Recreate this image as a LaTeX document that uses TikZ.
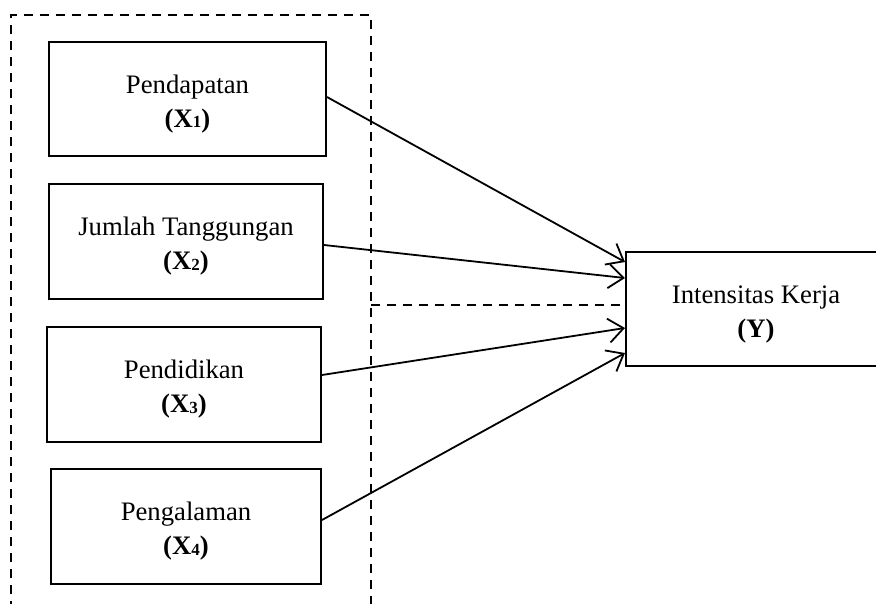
\documentclass[tikz,border=0pt]{standalone}
\usepackage{fontspec}
\setmainfont{Liberation Serif}
\usetikzlibrary{arrows.meta}
\begin{document}
\begin{tikzpicture}[x=1pt,y=-1pt,
  varbox/.style={draw,line width=2pt,inner sep=0pt},
  vartext/.style={align=center,inner sep=0pt,yshift=-5pt,
    font=\fontsize{26.7}{34}\selectfont},
  conn/.style={line width=1.8pt,-{Straight Barb[length=15pt,width=24pt,line width=1.8pt]}},
  dashline/.style={line width=1.8pt,dash pattern=on 9pt off 7pt}]
\useasboundingbox (0,0) rectangle (876,603);
\clip (0,0) rectangle (876,603);
\newcommand{\xv}[1]{\textbf{(X\raisebox{-0.5pt}{\fontsize{17}{17}\selectfont #1})}}
\node[varbox,minimum width=277pt,minimum height=114pt] (x1) at (187.5,99) {};
\node[varbox,minimum width=274pt,minimum height=115pt] (x2) at (186,241.5) {};
\node[varbox,minimum width=274pt,minimum height=115pt] (x3) at (184,384.5) {};
\node[varbox,minimum width=270pt,minimum height=115pt] (x4) at (186,526.5) {};
\node[varbox,minimum width=260pt,minimum height=114pt] (y) at (756,309) {};
\node[vartext] (x1t) at (x1.center) {Pendapatan\\\xv{1}};
\node[vartext] (x2t) at (x2.center) {Jumlah Tanggungan\\\xv{2}};
\node[vartext] (x3t) at (x3.center) {Pendidikan\\\xv{3}};
\node[vartext] (x4t) at (x4.center) {Pengalaman\\\xv{4}};
\node[vartext] (yt) at (y.center) {Intensitas Kerja\\\textbf{(Y)}};
\coordinate (tl) at (11,15);
\coordinate (tr) at (371,15);
\coordinate (bl) at (11,610);
\coordinate (br) at (371,610);
\coordinate (mid) at (371,305);
\draw[dashline] (bl) -- (tl) -- (tr) -- (br);
\draw[dashline] (mid) -- (mid -| y.west);
\draw[conn] ([yshift=2pt]x1.east) -- ([yshift=47pt]y.west);
\draw[conn] ([yshift=-3.5pt]x2.east) -- ([yshift=31pt]y.west);
\draw[conn] ([yshift=9.5pt]x3.east) -- ([yshift=-19pt]y.west);
\draw[conn] ([yshift=6.5pt]x4.east) -- ([yshift=-44pt]y.west);
\end{tikzpicture}
\end{document}
